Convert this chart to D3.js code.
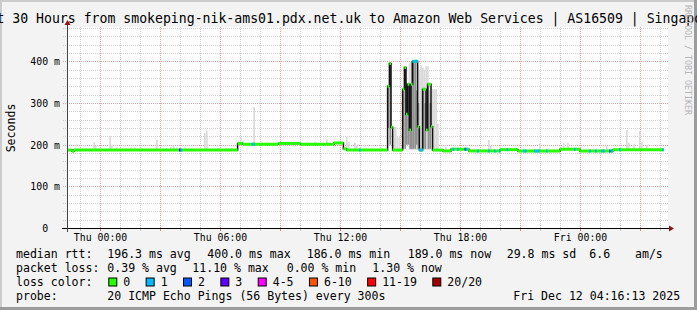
<!DOCTYPE html>
<html>
<head>
<meta charset="utf-8">
<script src="https://cdn.jsdelivr.net/npm/d3@7"></script>
<style>
  body { margin: 0; background: #fff; }
  svg { display: block; }
  text { font-family: 'DejaVu Sans Mono', monospace; }
</style>
</head>
<body>
<div class="chartHolder"></div>
<script>
// all times are hours counted from Thu 00:00
const xTickHours = [0, 6, 12, 18, 24]
const xTickLabels = ['Thu 00:00', 'Thu 06:00', 'Thu 12:00', 'Thu 18:00', 'Fri 00:00']
const yTickValues = [0, 100, 200, 300, 400]
const yTickLabels = ['0  ', '100 m', '200 m', '300 m', '400 m']

// median rtt (ms) as runs: [from hour, to hour, ms]
const medianRuns = [
  [-1.65, -1.40, 187], [-1.40, -1.30, 184], [-1.30, 6.88, 187], [6.88, 7.13, 203],
  [7.13, 8.92, 201], [8.92, 10.03, 203], [10.03, 11.70, 201], [11.70, 12.17, 204],
  [12.17, 12.33, 190], [12.33, 14.38, 187],
  [14.38, 14.47, 340], [14.47, 14.55, 395], [14.55, 14.63, 242], [14.63, 15.13, 187],
  [15.13, 15.22, 333], [15.22, 15.30, 385], [15.30, 15.38, 273], [15.38, 15.47, 345],
  [15.47, 15.55, 235], [15.55, 15.63, 345], [15.63, 15.88, 400], [15.88, 15.97, 243],
  [15.97, 16.13, 187], [16.13, 16.30, 333], [16.30, 16.38, 235], [16.38, 16.55, 345],
  [16.55, 16.63, 243], [16.63, 17.15, 187],
  [17.15, 17.55, 185], [17.55, 18.45, 189], [18.45, 20.00, 185], [20.00, 20.90, 188],
  [20.90, 23.00, 185], [23.00, 24.00, 189], [24.00, 25.65, 185], [25.65, 28.20, 188]
]

// 5 minute steps that lost pings: [hour, loss colour index]
const lossSteps = [
  [3.95, 3], [4.03, 1], [7.58, 1], [7.67, 1], [12.95, 1],
  [15.63, 1], [15.72, 1], [15.80, 1], [15.97, 1], [16.05, 1],
  [17.62, 1], [17.85, 1], [18.22, 2], [18.30, 1], [18.85, 1],
  [19.40, 1], [19.70, 1], [19.95, 1], [20.33, 1],
  [21.15, 1], [21.25, 1], [21.70, 1], [21.80, 1], [21.90, 1], [22.30, 1],
  [23.70, 1], [24.45, 1], [24.75, 1], [25.05, 1], [25.15, 1],
  [25.45, 2], [25.55, 1], [25.95, 1], [28.10, 1]
]

// smoke (spread of the 20 pings): [hour, low ms, high ms]
const smokeLight = [
  [-0.33, 187, 206], [-0.25, 187, 197], [0.47, 187, 221], [0.55, 187, 200],
  [0.80, 187, 193], [1.50, 187, 193], [1.70, 187, 193], [2.80, 187, 211],
  [3.50, 187, 194], [3.65, 187, 196], [3.80, 187, 193], [4.20, 187, 193],
  [5.20, 187, 228], [5.30, 187, 233], [5.85, 187, 192], [6.30, 187, 191],
  [6.55, 187, 192], [7.00, 201, 216], [7.10, 201, 208], [7.67, 201, 290],
  [10.70, 201, 206], [10.80, 201, 203], [11.30, 201, 213],
  [12.30, 187, 219], [12.40, 187, 207], [12.70, 187, 205], [12.80, 187, 198],
  [13.55, 187, 192],
  [14.67, 187, 243], [14.75, 187, 243], [14.83, 187, 218], [14.92, 187, 218], [15.00, 187, 195],
  [15.43, 187, 395], [15.52, 187, 400], [15.60, 187, 395], [15.68, 187, 400],
  [15.77, 187, 400], [15.85, 187, 390], [15.93, 187, 380], [16.02, 187, 390],
  [16.10, 187, 385], [16.18, 187, 380], [16.27, 187, 388], [16.35, 187, 388],
  [16.43, 187, 330], [16.52, 187, 300], [16.60, 187, 333], [16.68, 187, 333],
  [16.77, 187, 333], [16.85, 187, 250],
  [17.25, 185, 195], [19.40, 185, 211], [19.50, 185, 197], [21.95, 185, 202],
  [23.15, 189, 205], [23.35, 189, 205], [25.30, 185, 197],
  [26.30, 188, 235], [26.40, 188, 205], [26.65, 188, 202],
  [26.95, 188, 233], [27.05, 188, 207], [27.30, 188, 199]
]
const smokeDark = [
  [14.38, 240, 340], [14.47, 200, 395], [15.13, 190, 333], [15.22, 190, 385],
  [15.30, 200, 345], [15.38, 200, 345], [15.47, 190, 345], [15.55, 190, 400],
  [15.63, 190, 400], [15.72, 190, 400], [15.80, 200, 330], [15.88, 190, 300],
  [16.13, 190, 333], [16.22, 190, 300], [16.38, 190, 345], [16.47, 190, 300]
]

const lossLabels = ['0', '1', '2', '3', '4-5', '6-10', '11-19', '20/20']
const lossColors = ['#26ff00', '#00b8ff', '#0059ff', '#5e00ff', '#ff00fe', '#ff5500', '#ff0000', '#a10000']

const titleText = 'Last 30 Hours from smokeping-nik-ams01.pdx.net.uk to Amazon Web Services | AS16509 | Singapore'
const rttStats = ['196.3 ms avg', '400.0 ms max', '186.0 ms min', '189.0 ms now', '29.8 ms sd', '6.6', 'am/s']
const lossStats = ['0.39 % avg', '11.10 % max', '0.00 % min', '1.30 % now']
const probeText = '20 ICMP Echo Pings (56 Bytes) every 300s'
const stampText = 'Fri Dec 12 04:16:13 2025'

const render = () => {
  const W = 697, H = 310
  const plot = { left: 67, right: 667, top: 28, bottom: 228 }
  const step = 1 / 12

  const x = d3.scaleLinear().domain([-1.65, 28.35]).range([plot.left, plot.right])
  const y = d3.scaleLinear().domain([0, 480]).range([plot.bottom, plot.top])
  const stepW = x(step) - x(0)

  const svg = d3.select('.chartHolder').append('svg')
    .attr('width', W)
    .attr('height', H)

  // frame
  svg.append('rect').attr('width', W).attr('height', H).attr('fill', '#f3f3f3')
  svg.append('path').attr('d', `M1,${H} V1 H${W}`).attr('fill', 'none')
    .attr('stroke', '#cbcbcb').attr('stroke-width', 2)
  svg.append('path').attr('d', `M0,${H - 1.5} H${W - 1.5} V0`).attr('fill', 'none')
    .attr('stroke', '#9c9c9c').attr('stroke-width', 3)

  svg.append('rect')
    .attr('x', plot.left).attr('y', plot.top - 1)
    .attr('width', plot.right - plot.left + 1).attr('height', plot.bottom - plot.top + 1)
    .attr('fill', '#fff')

  // grid
  const grid = svg.append('g').attr('shape-rendering', 'crispEdges')
  const hours = d3.range(-1, 29)
  grid.selectAll('.vgrid').data(hours).enter().append('line')
    .attr('x1', d => Math.round(x(d)) + 0.5).attr('x2', d => Math.round(x(d)) + 0.5)
    .attr('y1', plot.top - 1).attr('y2', plot.bottom + 3)
    .attr('stroke', d => d % 3 === 0 ? '#f0a0a0' : '#d2d2d2')
    .attr('stroke-dasharray', '1,1')
  const levels = d3.range(20, 481, 20)
  grid.selectAll('.hgrid').data(levels).enter().append('line')
    .attr('x1', plot.left - 4).attr('x2', plot.right + 1)
    .attr('y1', d => Math.round(y(d)) + 0.5).attr('y2', d => Math.round(y(d)) + 0.5)
    .attr('stroke', d => d % 100 === 0 ? '#e8a4a4' : '#d2d2d2')
    .attr('stroke-dasharray', '1,1')

  // smoke
  svg.append('g').selectAll('rect').data(smokeLight).enter().append('rect')
    .attr('x', d => x(d[0])).attr('width', stepW)
    .attr('y', d => y(d[2])).attr('height', d => y(d[1]) - y(d[2]))
    .attr('fill', '#dadada')
  svg.append('g').selectAll('rect').data(smokeDark).enter().append('rect')
    .attr('x', d => x(d[0])).attr('width', stepW)
    .attr('y', d => y(d[2])).attr('height', d => y(d[1]) - y(d[2]))
    .attr('fill', '#8f8f8f')

  // median as a black step line, coloured by loss on top
  var pts = medianRuns.map(r => [r[0], r[2]])
  var last = medianRuns[medianRuns.length - 1]
  pts.push([last[1], last[2]])
  const stepLine = d3.line().x(d => x(d[0])).y(d => y(d[1])).curve(d3.curveStepAfter)
  svg.append('path').datum(pts)
    .attr('d', stepLine)
    .attr('fill', 'none').attr('stroke', '#111').attr('stroke-width', 1.5)

  svg.append('g').selectAll('line').data(medianRuns).enter().append('line')
    .attr('x1', d => x(d[0])).attr('x2', d => x(d[1]))
    .attr('y1', d => y(d[2])).attr('y2', d => y(d[2]))
    .attr('stroke', lossColors[0]).attr('stroke-width', 3)

  const medianAt = h => {
    var r = medianRuns.find(r => h >= r[0] - 0.001 && h < r[1])
    return r ? r[2] : 187
  }
  svg.append('g').selectAll('line').data(lossSteps).enter().append('line')
    .attr('x1', d => x(d[0])).attr('x2', d => x(d[0]) + stepW)
    .attr('y1', d => y(medianAt(d[0]))).attr('y2', d => y(medianAt(d[0])))
    .attr('stroke', d => lossColors[d[1]]).attr('stroke-width', 3)

  // axes
  const xAxis = d3.axisBottom(x).tickValues(xTickHours)
    .tickFormat((d, i) => xTickLabels[i]).tickSize(0)
  const xg = svg.append('g').attr('transform', `translate(0,${plot.bottom})`).call(xAxis)
  xg.select('.domain').remove()
  xg.selectAll('text').attr('y', 12.5).attr('dy', 0)
    .style('font-family', 'DejaVu Sans Mono').style('font-size', '9.85px').attr('fill', '#000')

  const yAxis = d3.axisLeft(y).tickValues(yTickValues)
    .tickFormat((d, i) => yTickLabels[i]).tickSize(0).tickPadding(7)
  const yg = svg.append('g').attr('transform', `translate(${plot.left},0)`).call(yAxis)
  yg.select('.domain').remove()
  yg.selectAll('text').attr('dy', '0.37em').attr('xml:space', 'preserve')
    .style('white-space', 'pre')
    .style('font-family', 'DejaVu Sans Mono').style('font-size', '9.85px').attr('fill', '#000')

  // tick marks under the x axis
  svg.append('g').selectAll('line').data(hours).enter().append('line')
    .attr('x1', d => Math.round(x(d)) + 0.5).attr('x2', d => Math.round(x(d)) + 0.5)
    .attr('y1', plot.bottom).attr('y2', plot.bottom + 3)
    .attr('stroke', d => d % 3 === 0 ? '#f08080' : '#c8c8c8')

  svg.append('line')
    .attr('x1', plot.left - 5).attr('x2', plot.right + 4)
    .attr('y1', plot.bottom + 0.5).attr('y2', plot.bottom + 0.5)
    .attr('stroke', '#000')
  svg.append('line')
    .attr('x1', plot.left + 0.5).attr('x2', plot.left + 0.5)
    .attr('y1', plot.bottom + 4).attr('y2', plot.top - 5)
    .attr('stroke', '#444')
  svg.append('path')
    .attr('d', `M${plot.left + 0.5},${plot.top - 8} l-3,5 h6 z`)
    .attr('fill', '#8e1414')
  svg.append('path')
    .attr('d', `M${plot.right + 7},${plot.bottom + 0.5} l-5,-3 v6 z`)
    .attr('fill', '#8e1414')

  // title (wider than the image, as in rrdtool's own output) and labels
  svg.append('text')
    .attr('x', -27.4).attr('y', 23)
    .style('font-size', '13.18px')
    .text(titleText)
  svg.append('text')
    .attr('transform', `translate(15,${(plot.top + plot.bottom) / 2}) rotate(-90)`)
    .attr('text-anchor', 'middle')
    .style('font-size', '11.55px')
    .text('Seconds')
  svg.append('text')
    .attr('transform', 'translate(684.5,5) rotate(90)')
    .style('font-size', '8.3px')
    .attr('fill', '#b4b4b4')
    .text('RRDTOOL / TOBI OETIKER')

  // legend
  const lg = svg.append('g').style('font-size', '11.55px').attr('fill', '#000')
  const rows = [257.5, 271.5, 285.5, 299.5]
  lg.append('text').attr('x', 16).attr('y', rows[0]).text('median rtt:')
  const rttX = [107.3, 207.3, 306.7, 407.7, 506.7, 589.3, 635]
  lg.selectAll('.rtt').data(rttStats).enter().append('text')
    .attr('x', (d, i) => rttX[i]).attr('y', rows[0]).text(d => d)

  lg.append('text').attr('x', 16).attr('y', rows[1]).text('packet loss:')
  const lossX = [107.3, 192.3, 286.7, 372.3]
  lg.selectAll('.loss').data(lossStats).enter().append('text')
    .attr('x', (d, i) => lossX[i]).attr('y', rows[1]).text(d => d)

  lg.append('text').attr('x', 16).attr('y', rows[2]).text('loss color:')
  var sx = 108.3
  const swatchX = lossLabels.map(l => {
    var cur = sx
    sx += 30.4 + 6.95 * l.length
    return cur
  })
  lg.selectAll('.sw').data(lossLabels).enter().append('rect')
    .attr('x', (d, i) => swatchX[i] + 0.5).attr('y', rows[2] - 7.5)
    .attr('width', 8).attr('height', 8)
    .attr('fill', (d, i) => lossColors[i]).attr('stroke', '#000')
  lg.selectAll('.swl').data(lossLabels).enter().append('text')
    .attr('x', (d, i) => swatchX[i] + 15).attr('y', rows[2]).text(d => d)

  lg.append('text').attr('x', 16).attr('y', rows[3]).text('probe:')
  lg.append('text').attr('x', 107.3).attr('y', rows[3]).text(probeText)
  lg.append('text').attr('x', 513.3).attr('y', rows[3]).text(stampText)
}

render()
</script>
</body>
</html>
